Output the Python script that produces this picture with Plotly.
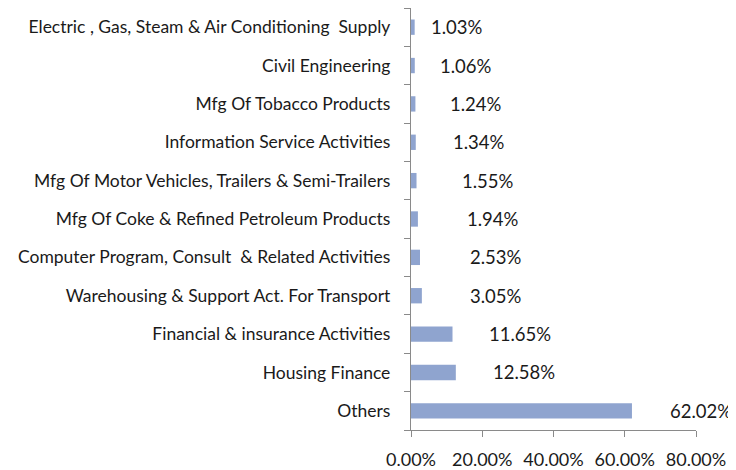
import plotly.graph_objects as go

categories = [
    "Electric , Gas, Steam & Air Conditioning  Supply",
    "Civil Engineering",
    "Mfg Of Tobacco Products",
    "Information Service Activities",
    "Mfg Of Motor Vehicles, Trailers & Semi-Trailers",
    "Mfg Of Coke & Refined Petroleum Products",
    "Computer Program, Consult  & Related Activities",
    "Warehousing & Support Act. For Transport",
    "Financial & insurance Activities",
    "Housing Finance",
    "Others",
]
values = [1.03, 1.06, 1.24, 1.34, 1.55, 1.94, 2.53, 3.05, 11.65, 12.58, 62.02]
x_ticks = [0, 20, 40, 60, 80]
x_tick_labels = ["0.00%", "20.00%", "40.00%", "60.00%", "80.00%"]

# label pixel offsets from bar end (style)
label_shift = [14, 23, 33, 35, 43, 47, 48, 46, 34, 35, 36]

FONT = "Lato"
TXT = "#1a1a1a"

fig = go.Figure()
fig.add_trace(go.Bar(
    x=values, y=categories, orientation="h",
    marker=dict(color="#8FA4CF", line=dict(width=0)),
    width=0.4,
    hoverinfo="skip",
))

for c, v, s in zip(categories, values, label_shift):
    fig.add_annotation(
        x=v, y=c, text=f"{v:.2f}%", showarrow=False,
        xanchor="left", yanchor="middle", xshift=s,
        font=dict(family=FONT, size=18.5, color=TXT),
    )

# page body adds an 8px offset, so the figure is sized to fit the 736x470 window
fig.update_layout(
    width=728, height=462,
    margin=dict(l=403, r=40, t=0, b=40, autoexpand=False),
    paper_bgcolor="white", plot_bgcolor="white",
    showlegend=False,
    font=dict(family=FONT, size=17, color=TXT),
)
fig.update_xaxes(
    range=[0, 80], tickvals=x_ticks, ticktext=x_tick_labels,
    showgrid=False, zeroline=False,
    showline=True, linecolor="#8a8a8a", linewidth=1.3,
    ticks="outside", ticklen=6, tickcolor="#8a8a8a",
    ticklabelstandoff=7,
    tickfont=dict(family=FONT, size=18, color=TXT),
    automargin=False,
)
fig.update_yaxes(
    categoryorder="array", categoryarray=categories[::-1],
    range=[-0.5, 10.5],
    showgrid=False, zeroline=False,
    showline=True, linecolor="#8a8a8a", linewidth=1.3,
    ticks="outside", ticklen=6, tickcolor="#8a8a8a",
    tickson="boundaries",
    ticklabelstandoff=16,
    tickfont=dict(family=FONT, size=17.5, color=TXT),
    automargin=False,
)

fig.write_html("out.html")
